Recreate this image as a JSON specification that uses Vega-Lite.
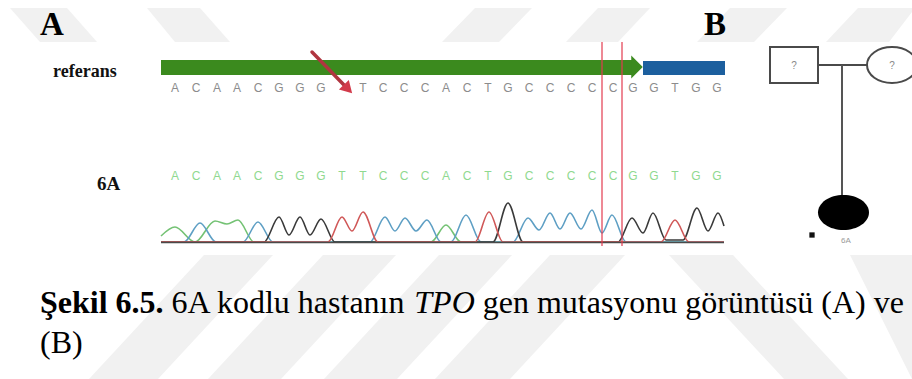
{
  "$schema": "https://vega.github.io/schema/vega-lite/v6.json",
  "width": 912,
  "height": 379,
  "autosize": {"type": "fit", "contains": "padding"},
  "padding": 0,
  "background": "white",
  "config": {"view": {"stroke": null}},
  "datasets": {
    "stripes": [
      {"id": "a", "y": 8, "x": 10, "x2": 67}, {"id": "a", "y": 42, "x": 40, "x2": 97},
      {"id": "b", "y": 8, "x": 147, "x2": 200}, {"id": "b", "y": 42, "x": 175, "x2": 230},
      {"id": "c", "y": 8, "x": 475, "x2": 532}, {"id": "c", "y": 42, "x": 442, "x2": 499},
      {"id": "d", "y": 8, "x": 598, "x2": 650}, {"id": "d", "y": 42, "x": 566, "x2": 618},
      {"id": "e", "y": 8, "x": 730, "x2": 787}, {"id": "e", "y": 42, "x": 697, "x2": 754},
      {"id": "f", "y": 8, "x": 858, "x2": 915}, {"id": "f", "y": 42, "x": 826, "x2": 889},
      {"id": "g", "y": 255, "x": 204, "x2": 273}, {"id": "g", "y": 379, "x": 89, "x2": 158},
      {"id": "h", "y": 255, "x": 323, "x2": 396}, {"id": "h", "y": 379, "x": 208, "x2": 281},
      {"id": "i", "y": 255, "x": 439, "x2": 512}, {"id": "i", "y": 379, "x": 324, "x2": 397},
      {"id": "j", "y": 255, "x": 550, "x2": 625}, {"id": "j", "y": 379, "x": 435, "x2": 510},
      {"id": "k", "y": 255, "x": 669, "x2": 733}, {"id": "k", "y": 379, "x": 784, "x2": 848},
      {"id": "l", "y": 255, "x": 850, "x2": 912}, {"id": "l", "y": 379, "x": 912, "x2": 912}
    ],
    "refbases": [
      {"x": 175, "y": 92, "b": "A"}, {"x": 196, "y": 92, "b": "C"}, {"x": 217, "y": 92, "b": "A"},
      {"x": 237, "y": 92, "b": "A"}, {"x": 258, "y": 92, "b": "C"}, {"x": 279, "y": 92, "b": "G"},
      {"x": 300, "y": 92, "b": "G"}, {"x": 321, "y": 92, "b": "G"}, {"x": 363, "y": 92, "b": "T"},
      {"x": 383, "y": 92, "b": "C"}, {"x": 404, "y": 92, "b": "C"}, {"x": 425, "y": 92, "b": "C"},
      {"x": 446, "y": 92, "b": "A"}, {"x": 467, "y": 92, "b": "C"}, {"x": 488, "y": 92, "b": "T"},
      {"x": 508, "y": 92, "b": "G"}, {"x": 529, "y": 92, "b": "C"}, {"x": 550, "y": 92, "b": "C"},
      {"x": 571, "y": 92, "b": "C"}, {"x": 592, "y": 92, "b": "C"}, {"x": 613, "y": 92, "b": "C"},
      {"x": 633, "y": 92, "b": "G"}, {"x": 654, "y": 92, "b": "G"}, {"x": 675, "y": 92, "b": "T"},
      {"x": 696, "y": 92, "b": "G"}, {"x": 717, "y": 92, "b": "G"}
    ],
    "patbases": [
      {"x": 175, "y": 180, "b": "A"}, {"x": 196, "y": 180, "b": "C"}, {"x": 217, "y": 180, "b": "A"},
      {"x": 237, "y": 180, "b": "A"}, {"x": 258, "y": 180, "b": "C"}, {"x": 279, "y": 180, "b": "G"},
      {"x": 300, "y": 180, "b": "G"}, {"x": 321, "y": 180, "b": "G"}, {"x": 342, "y": 180, "b": "T"},
      {"x": 363, "y": 180, "b": "T"}, {"x": 383, "y": 180, "b": "C"}, {"x": 404, "y": 180, "b": "C"},
      {"x": 425, "y": 180, "b": "C"}, {"x": 446, "y": 180, "b": "A"}, {"x": 467, "y": 180, "b": "C"},
      {"x": 488, "y": 180, "b": "T"}, {"x": 508, "y": 180, "b": "G"}, {"x": 529, "y": 180, "b": "C"},
      {"x": 550, "y": 180, "b": "C"}, {"x": 571, "y": 180, "b": "C"}, {"x": 592, "y": 180, "b": "C"},
      {"x": 613, "y": 180, "b": "C"}, {"x": 633, "y": 180, "b": "G"}, {"x": 654, "y": 180, "b": "G"},
      {"x": 675, "y": 180, "b": "T"}, {"x": 696, "y": 180, "b": "G"}, {"x": 717, "y": 180, "b": "G"}
    ],
    "trace": [
      {"ch": "A", "x": 161, "y": 236}, {"ch": "A", "x": 175, "y": 227}, {"ch": "A", "x": 195, "y": 242},
      {"ch": "A", "x": 215, "y": 221}, {"ch": "A", "x": 227, "y": 224}, {"ch": "A", "x": 238, "y": 220},
      {"ch": "A", "x": 254, "y": 242}, {"ch": "A", "x": 431, "y": 242}, {"ch": "A", "x": 446, "y": 225},
      {"ch": "A", "x": 461, "y": 242}, {"ch": "A", "x": 724, "y": 242},
      {"ch": "C", "x": 161, "y": 242}, {"ch": "C", "x": 184, "y": 242}, {"ch": "C", "x": 200, "y": 223},
      {"ch": "C", "x": 216, "y": 242}, {"ch": "C", "x": 243, "y": 242}, {"ch": "C", "x": 258, "y": 222},
      {"ch": "C", "x": 273, "y": 242}, {"ch": "C", "x": 370, "y": 242}, {"ch": "C", "x": 385, "y": 217},
      {"ch": "C", "x": 395, "y": 231}, {"ch": "C", "x": 405, "y": 218}, {"ch": "C", "x": 416, "y": 231},
      {"ch": "C", "x": 427, "y": 220}, {"ch": "C", "x": 441, "y": 242}, {"ch": "C", "x": 451, "y": 242},
      {"ch": "C", "x": 466, "y": 215}, {"ch": "C", "x": 481, "y": 242}, {"ch": "C", "x": 513, "y": 242},
      {"ch": "C", "x": 528, "y": 218}, {"ch": "C", "x": 539, "y": 230}, {"ch": "C", "x": 550, "y": 213},
      {"ch": "C", "x": 560, "y": 229}, {"ch": "C", "x": 570, "y": 213}, {"ch": "C", "x": 581, "y": 229},
      {"ch": "C", "x": 592, "y": 210}, {"ch": "C", "x": 602, "y": 233}, {"ch": "C", "x": 612, "y": 215},
      {"ch": "C", "x": 626, "y": 242}, {"ch": "C", "x": 724, "y": 242},
      {"ch": "G", "x": 161, "y": 242}, {"ch": "G", "x": 264, "y": 242}, {"ch": "G", "x": 279, "y": 217},
      {"ch": "G", "x": 289, "y": 235}, {"ch": "G", "x": 300, "y": 217}, {"ch": "G", "x": 310, "y": 235},
      {"ch": "G", "x": 321, "y": 219}, {"ch": "G", "x": 335, "y": 242}, {"ch": "G", "x": 493, "y": 242},
      {"ch": "G", "x": 508, "y": 203}, {"ch": "G", "x": 523, "y": 242}, {"ch": "G", "x": 618, "y": 242},
      {"ch": "G", "x": 632, "y": 218}, {"ch": "G", "x": 643, "y": 233}, {"ch": "G", "x": 653, "y": 213},
      {"ch": "G", "x": 666, "y": 240}, {"ch": "G", "x": 683, "y": 240}, {"ch": "G", "x": 697, "y": 208},
      {"ch": "G", "x": 708, "y": 231}, {"ch": "G", "x": 718, "y": 213}, {"ch": "G", "x": 724, "y": 226},
      {"ch": "T", "x": 161, "y": 242}, {"ch": "T", "x": 328, "y": 242}, {"ch": "T", "x": 342, "y": 217},
      {"ch": "T", "x": 352, "y": 231}, {"ch": "T", "x": 363, "y": 212}, {"ch": "T", "x": 378, "y": 242},
      {"ch": "T", "x": 475, "y": 242}, {"ch": "T", "x": 489, "y": 212}, {"ch": "T", "x": 503, "y": 242},
      {"ch": "T", "x": 661, "y": 242}, {"ch": "T", "x": 675, "y": 220}, {"ch": "T", "x": 689, "y": 242},
      {"ch": "T", "x": 724, "y": 242}
    ]
  },
  "encoding": {
    "x": {"field": "x", "type": "quantitative", "scale": {"domain": [0, 912], "nice": false, "zero": false}, "axis": null},
    "y": {"field": "y", "type": "quantitative", "scale": {"domain": [0, 379], "nice": false, "zero": false, "reverse": true}, "axis": null}
  },
  "layer": [
    {
      "data": {"name": "stripes"},
      "mark": {"type": "area", "orient": "horizontal", "color": "#f1f1f1", "clip": true},
      "encoding": {"x2": {"field": "x2"}, "detail": {"field": "id"}}
    },
    {
      "data": {"values": [{"x": 161, "x2": 632, "y": 60, "y2": 75}]},
      "mark": {"type": "rect", "color": "#3b8a1e"},
      "encoding": {"x2": {"field": "x2"}, "y2": {"field": "y2"}}
    },
    {
      "data": {"values": [{"x": 643, "x2": 725, "y": 61, "y2": 75}]},
      "mark": {"type": "rect", "color": "#1c5f9e"},
      "encoding": {"x2": {"field": "x2"}, "y2": {"field": "y2"}}
    },
    {
      "data": {"values": [{"x": 637, "y": 67}]},
      "mark": {"type": "point", "shape": "M-0.5,-1L0.5,0L-0.5,1Z", "size": 529, "filled": true, "color": "#3b8a1e", "opacity": 1}
    },
    {
      "data": {"name": "refbases"},
      "mark": {"type": "text", "font": "Liberation Sans", "fontSize": 12, "color": "#8c8c8c", "align": "center", "baseline": "alphabetic"},
      "encoding": {"text": {"field": "b"}}
    },
    {
      "data": {"name": "patbases"},
      "mark": {"type": "text", "font": "Liberation Sans", "fontSize": 12, "color": "#8fd98f", "align": "center", "baseline": "alphabetic"},
      "encoding": {"text": {"field": "b"}}
    },
    {
      "data": {"name": "trace"},
      "mark": {"type": "line", "interpolate": "monotone", "strokeWidth": 1.6},
      "encoding": {
        "color": {"field": "ch", "type": "nominal", "scale": {"domain": ["A", "C", "G", "T"], "range": ["#74c274", "#5e9fc4", "#3a3a3a", "#d05858"]}, "legend": null}
      }
    },
    {
      "data": {"values": [{"x": 161, "x2": 724, "y": 242.5}]},
      "mark": {"type": "rule", "color": "#4a4a4a", "strokeWidth": 1.6},
      "encoding": {"x2": {"field": "x2"}}
    },
    {
      "data": {"values": [{"x": 602, "y": 42, "y2": 246}, {"x": 622, "y": 42, "y2": 246}]},
      "mark": {"type": "rule", "color": "#e33b4f", "opacity": 0.6, "strokeWidth": 2},
      "encoding": {"y2": {"field": "y2"}}
    },
    {
      "data": {"values": [{"x": 312, "y": 52, "x2": 344, "y2": 85}]},
      "mark": {"type": "rule", "color": "#b03540", "strokeWidth": 3.5, "strokeCap": "round"},
      "encoding": {"x2": {"field": "x2"}, "y2": {"field": "y2"}}
    },
    {
      "data": {"values": [{"x": 348, "y": 89}]},
      "mark": {"type": "point", "shape": "triangle-up", "angle": 136, "size": 190, "filled": true, "color": "#d23a4a", "opacity": 1}
    },
    {
      "data": {"values": [{"x": 40, "y": 35, "t": "A"}, {"x": 704, "y": 35, "t": "B"}]},
      "mark": {"type": "text", "font": "Liberation Serif", "fontWeight": "bold", "fontSize": 33, "color": "#000000", "align": "left", "baseline": "alphabetic"},
      "encoding": {"text": {"field": "t"}}
    },
    {
      "data": {"values": [{"x": 53, "y": 77, "t": "referans"}]},
      "mark": {"type": "text", "font": "Liberation Serif", "fontWeight": "bold", "fontSize": 18, "color": "#111111", "align": "left", "baseline": "alphabetic"},
      "encoding": {"text": {"field": "t"}}
    },
    {
      "data": {"values": [{"x": 97, "y": 190, "t": "6A"}]},
      "mark": {"type": "text", "font": "Liberation Serif", "fontWeight": "bold", "fontSize": 19, "color": "#111111", "align": "left", "baseline": "alphabetic"},
      "encoding": {"text": {"field": "t"}}
    },
    {
      "data": {"values": [{"x": 40, "y": 313, "t": "Şekil 6.5."}]},
      "mark": {"type": "text", "font": "Liberation Serif", "fontWeight": "bold", "fontSize": 32, "color": "#000000", "align": "left", "baseline": "alphabetic"},
      "encoding": {"text": {"field": "t"}}
    },
    {
      "data": {"values": [{"x": 171.6, "y": 313, "t": "6A kodlu hastanın"}, {"x": 482.7, "y": 313, "t": "gen mutasyonu görüntüsü (A) ve"}, {"x": 40, "y": 353, "t": "(B)"}]},
      "mark": {"type": "text", "font": "Liberation Serif", "fontSize": 32, "color": "#000000", "align": "left", "baseline": "alphabetic"},
      "encoding": {"text": {"field": "t"}}
    },
    {
      "data": {"values": [{"x": 414.3, "y": 313, "t": "TPO"}]},
      "mark": {"type": "text", "font": "Liberation Serif", "fontStyle": "italic", "fontSize": 32, "color": "#000000", "align": "left", "baseline": "alphabetic"},
      "encoding": {"text": {"field": "t"}}
    },
    {
      "data": {"values": [{"x": 770, "x2": 818, "y": 47, "y2": 83}]},
      "mark": {"type": "rect", "fill": null, "fillOpacity": 0, "stroke": "#4a4a4a", "strokeWidth": 2},
      "encoding": {"x2": {"field": "x2"}, "y2": {"field": "y2"}}
    },
    {
      "data": {"values": [{"x": 818, "x2": 867, "y": 65}]},
      "mark": {"type": "rule", "color": "#4a4a4a", "strokeWidth": 2},
      "encoding": {"x2": {"field": "x2"}}
    },
    {
      "data": {"values": [{"x": 842, "y": 65, "y2": 196}]},
      "mark": {"type": "rule", "color": "#555555", "strokeWidth": 2},
      "encoding": {"y2": {"field": "y2"}}
    },
    {
      "data": {"values": [{"x": 892, "y": 65}]},
      "mark": {"type": "point", "shape": "M-1,0A1,0.72,0,1,1,1,0A1,0.72,0,1,1,-1,0Z", "size": 2500, "filled": false, "stroke": "#4a4a4a", "strokeWidth": 2, "opacity": 1, "clip": true}
    },
    {
      "data": {"values": [{"x": 843.5, "y": 212.5}]},
      "mark": {"type": "point", "shape": "M-1,0A1,0.686,0,1,1,1,0A1,0.686,0,1,1,-1,0Z", "size": 2601, "filled": true, "color": "#000000", "opacity": 1}
    },
    {
      "data": {"values": [{"x": 812, "y": 235}]},
      "mark": {"type": "point", "shape": "square", "size": 28, "filled": true, "color": "#111111", "opacity": 1}
    },
    {
      "data": {"values": [{"x": 794, "y": 69, "t": "?"}, {"x": 892, "y": 69, "t": "?"}]},
      "mark": {"type": "text", "font": "Liberation Sans", "fontSize": 10, "color": "#8a8a8a", "align": "center", "baseline": "alphabetic"},
      "encoding": {"text": {"field": "t"}}
    },
    {
      "data": {"values": [{"x": 846, "y": 243, "t": "6A"}]},
      "mark": {"type": "text", "font": "Liberation Sans", "fontSize": 8, "color": "#9a9a9a", "align": "center", "baseline": "alphabetic"},
      "encoding": {"text": {"field": "t"}}
    }
  ]
}
